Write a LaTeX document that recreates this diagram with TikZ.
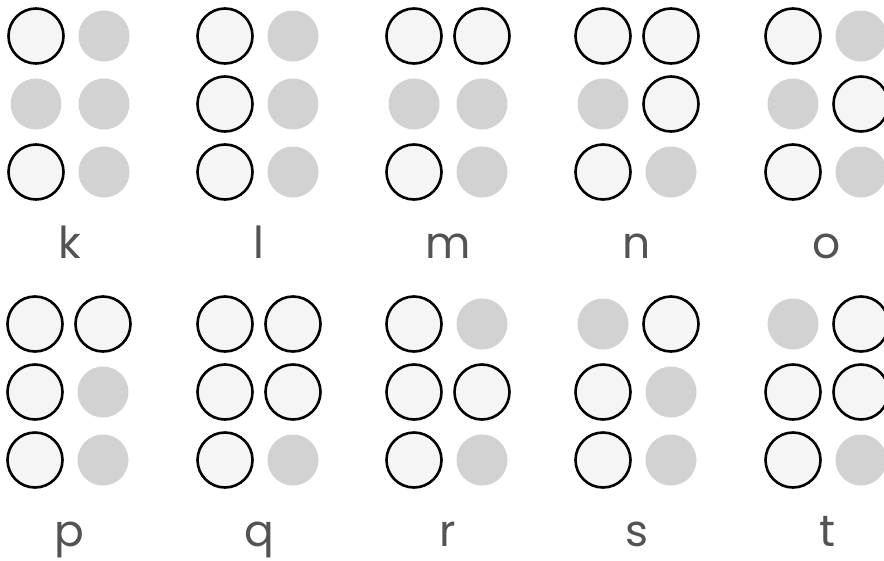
\documentclass[tikz,border=0pt]{standalone}
\usepackage{fontspec}
\setmainfont{Poppins}
\tikzset{
  raised/.style={circle,draw=black,line width=2.6pt,fill=gray!8,minimum size=55pt,inner sep=0pt},
  flat/.style={circle,draw=none,fill=gray!35,minimum size=51pt,inner sep=0pt},
  lbl/.style={anchor=base,text=gray!65!black,font=\fontsize{44}{48}\selectfont,inner sep=0pt}
}
\newcommand\bdot[4]{\ifnum#4=1 \node[raised] (#1) at (#2,#3) {};\else \node[flat] (#1) at (#2,#3) {};\fi}
\newcommand\bcell[9]{%
  \bdot{#1-1}{#2}{#3}{#4}
  \bdot{#1-2}{#2}{#3+68}{#5}
  \bdot{#1-3}{#2}{#3+136}{#6}
  \bdot{#1-4}{#2+68}{#3}{#7}
  \bdot{#1-5}{#2+68}{#3+68}{#8}
  \bdot{#1-6}{#2+68}{#3+136}{#9}
  \node[lbl] (#1-lbl) at (#2+34,#3+222) {#1};
}
\begin{document}
\begin{tikzpicture}[x=1pt,y=-1pt]
\useasboundingbox (0,0) rectangle (884,560);
\clip (0,0) rectangle (884,560);
\fill[white] (0,0) rectangle (884,560);
\bcell{k}{36}{36}{1}{0}{1}{0}{0}{0}
\bcell{l}{225}{36}{1}{1}{1}{0}{0}{0}
\bcell{m}{414}{36}{1}{0}{1}{1}{0}{0}
\bcell{n}{603}{36}{1}{0}{1}{1}{1}{0}
\bcell{o}{793}{36}{1}{0}{1}{0}{1}{0}
\bcell{p}{35}{324}{1}{1}{1}{1}{0}{0}
\bcell{q}{225}{324}{1}{1}{1}{1}{1}{0}
\bcell{r}{414}{324}{1}{1}{1}{0}{1}{0}
\bcell{s}{603}{324}{0}{1}{1}{1}{0}{0}
\bcell{t}{793}{324}{0}{1}{1}{1}{1}{0}
\end{tikzpicture}
\end{document}
